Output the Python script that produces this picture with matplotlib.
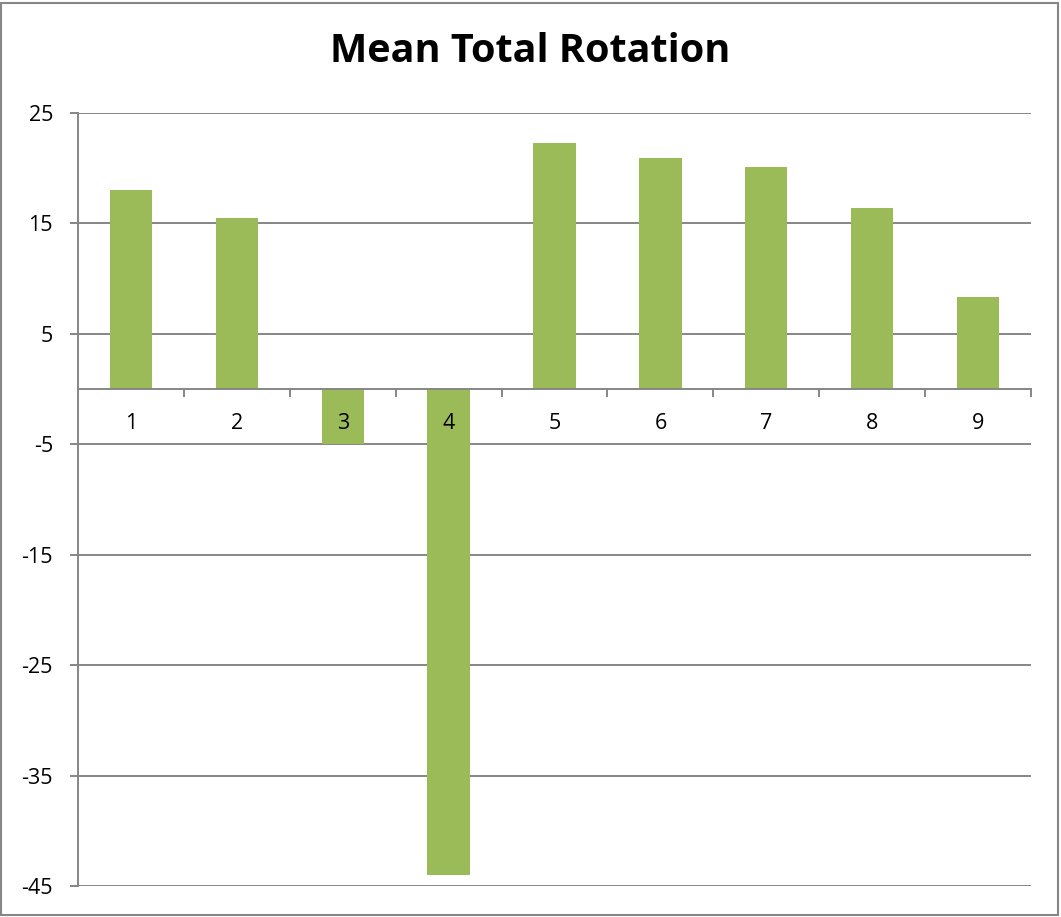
import matplotlib
matplotlib.use('Agg')
import matplotlib.pyplot as plt
from matplotlib.patches import Rectangle

# --- Datos ---
categorias = ['1', '2', '3', '4', '5', '6', '7', '8', '9']
rotacion = [18.0, 15.5, -5.0, -44.0, 22.3, 20.9, 20.1, 16.4, 8.3]
y_ticks = [-45, -35, -25, -15, -5, 5, 15, 25]

VERDE = '#9BBB59'
GRIS = '#868686'
plt.rcParams['font.family'] = ['Open Sans', 'DejaVu Sans']

fig = plt.figure(figsize=(10.61, 9.17), dpi=100)
ax = fig.add_axes([78 / 1061, 31 / 917, (1031 - 78) / 1061, (886 - 113) / 917])

x = list(range(1, len(categorias) + 1))
ax.bar(x, rotacion, width=0.4, color=VERDE, zorder=1)

ax.set_xlim(0.5, len(categorias) + 0.5)
ax.set_ylim(-45, 25)

# lineas de grilla por debajo de las barras
for y in y_ticks:
    ax.axhline(y, color=GRIS, lw=1.4, zorder=0)

for s in ['top', 'right']:
    ax.spines[s].set_visible(False)
ax.spines['left'].set_color(GRIS)
ax.spines['left'].set_linewidth(1.4)
ax.spines['left'].set_zorder(0)
ax.spines['bottom'].set_position(('data', 0))
ax.spines['bottom'].set_color(GRIS)
ax.spines['bottom'].set_linewidth(1.4)

ax.set_yticks(y_ticks)
ax.set_yticklabels([str(v) for v in y_ticks])
ax.tick_params(axis='y', length=6, width=1.4, color=GRIS, labelsize=15.5, pad=12)

ax.set_xticks(x)
ax.set_xticklabels(categorias)
ax.set_xticks([i + 0.5 for i in x], minor=True)
ax.tick_params(axis='x', which='major', length=0, labelsize=15.5, pad=17)
ax.tick_params(axis='x', which='minor', length=6, width=1.4, color=GRIS)
ax.xaxis.set_zorder(2)

fig.text(0.5, 1 - 52 / 917, 'Mean Total Rotation', ha='center', va='center',
         fontsize=28.5, fontweight='bold')

# borde exterior
fig.patches.append(Rectangle((0.001, 0.002), 0.996, 0.995, transform=fig.transFigure,
                             fill=False, edgecolor=GRIS, lw=1.5))

fig.savefig('out.png', dpi=100)
